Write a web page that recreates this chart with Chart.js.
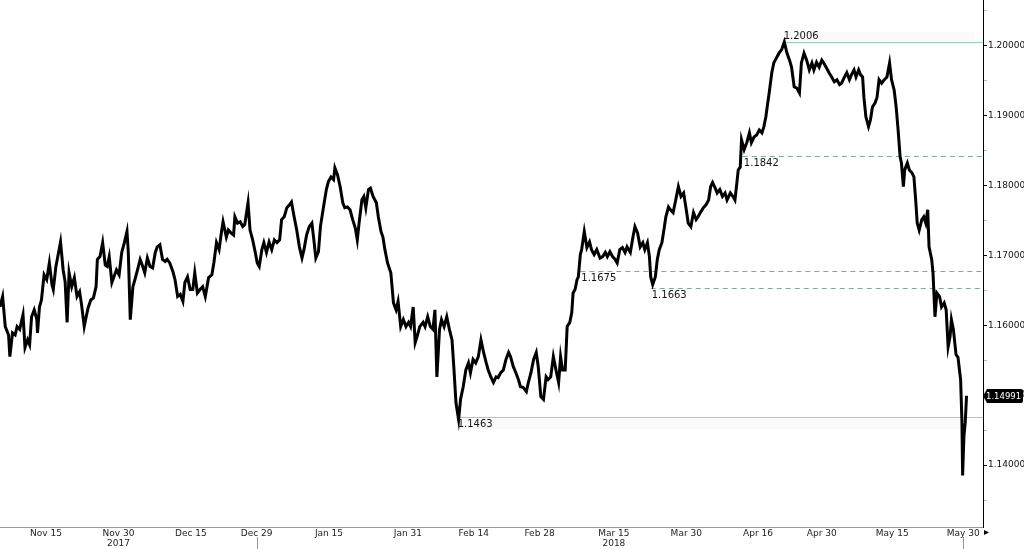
<!DOCTYPE html>
<html>
<head>
<meta charset="utf-8">
<script src="https://cdn.jsdelivr.net/npm/chart.js@4.4.1/dist/chart.umd.min.js"></script>
<style>
  html, body { margin: 0; padding: 0; background: #fff; }
  #wrap { width: 1024px; height: 549px; }
</style>
</head>
<body>
<div id="wrap"><canvas id="fxChart"></canvas></div>
<script>
// trading-day offset from Nov 15 2017, and the price read at that point
const days = [
  -7.0, -6.6, -6.2, -5.7, -5.5, -5.1, -4.7, -4.4, -4.0, -3.5, -3.2, -2.8, -2.5, -2.2, -1.8, -1.4, -1.3, -1.0, -0.7, -0.3,
  0.1, 0.5, 0.9, 1.1, 1.5, 1.9, 2.2, 2.6, 2.9, 3.2, 3.5, 3.9, 4.3, 4.7, 5.1, 5.4, 5.8, 6.1, 6.4, 6.8,
  7.2, 7.6, 7.8, 8.2, 8.6, 9.0, 9.3, 9.6, 10.0, 10.3, 10.7, 11.1, 11.5, 11.9, 12.3, 12.5, 12.8, 13.2, 13.5, 13.9,
  14.3, 14.7, 15.0, 15.4, 15.8, 16.2, 16.6, 16.9, 17.3, 17.7, 18.1, 18.4, 18.8, 19.3, 19.6, 20.0, 20.4, 20.8, 21.1, 21.5,
  21.9, 22.3, 22.6, 23.0, 23.4, 23.8, 24.2, 24.7, 25.2, 25.5, 25.9, 26.3, 26.7, 26.9, 27.4, 27.7, 28.1, 28.5, 28.7, 29.1,
  29.5, 29.9, 30.2, 30.7, 31.0, 31.4, 31.8, 32.1, 32.4, 32.8, 33.1, 33.5, 33.9, 34.3, 34.7, 35.1, 35.5, 35.8, 36.2, 36.6,
  37.0, 37.3, 37.7, 38.1, 38.5, 38.9, 39.2, 39.6, 40.0, 40.4, 40.7, 41.0, 41.4, 41.7, 42.1, 42.6, 42.9, 43.3, 43.7, 43.9,
  44.3, 44.7, 45.1, 45.4, 45.8, 46.2, 46.6, 47.0, 47.3, 47.6, 48.0, 48.3, 48.6, 49.0, 49.3, 49.7, 50.2, 50.5, 50.9, 51.2,
  51.5, 51.9, 52.4, 52.8, 53.2, 53.5, 53.9, 54.3, 54.7, 55.1, 55.4, 55.8, 56.1, 56.4, 56.8, 57.3, 57.6, 58.0, 58.4, 58.8,
  59.1, 59.4, 59.8, 60.1, 60.5, 60.9, 61.3, 61.7, 62.0, 62.3, 62.7, 63.0, 63.4, 63.8, 64.2, 64.5, 64.9, 65.3, 65.7, 66.1,
  66.5, 66.9, 67.2, 67.6, 68.0, 68.4, 68.7, 69.1, 69.5, 69.9, 70.3, 70.6, 71.0, 71.4, 71.8, 72.1, 72.5, 73.0, 73.3, 73.7,
  74.1, 74.5, 74.8, 75.2, 75.6, 76.0, 76.3, 76.7, 77.1, 77.5, 77.9, 78.2, 78.5, 78.9, 79.2, 79.6, 79.9, 80.1, 80.4, 80.7,
  80.9, 81.2, 81.4, 81.8, 82.2, 82.6, 82.9, 83.3, 83.7, 84.2, 84.6, 85.0, 85.3, 85.7, 86.1, 86.5, 86.8, 87.2, 87.6, 88.0,
  88.3, 88.8, 89.2, 89.5, 89.9, 90.3, 90.7, 91.0, 91.4, 91.7, 91.9, 92.2, 92.6, 92.9, 93.2, 93.6, 93.9, 94.2, 94.6, 94.9,
  95.3, 95.7, 96.1, 96.5, 96.9, 97.3, 97.6, 98.0, 98.4, 98.8, 99.1, 99.5, 99.9, 100.3, 100.7, 101.0, 101.3, 101.7, 102.0, 102.4,
  102.8, 103.2, 103.5, 104.0, 104.4, 104.7, 105.0, 105.2, 105.5, 105.7, 106.1, 106.5, 106.9, 107.2, 107.6, 108.0, 108.4, 108.8, 109.1, 109.4,
  109.6, 109.9, 110.3, 110.6, 111.1, 111.4, 111.8, 112.2, 112.6, 113.0, 113.3, 113.7, 114.1, 114.5, 114.8, 115.2, 115.6, 116.0, 116.4, 116.7,
  117.1, 117.5, 117.9, 118.2, 118.6, 119.0, 119.4, 119.8, 120.2, 120.6, 120.9, 121.3, 121.7, 122.1, 122.4, 122.8, 123.1, 123.5, 123.8, 124.1,
  124.3, 124.6, 125.0, 125.3, 125.6, 126.0, 126.3, 126.6, 127.0, 127.4, 127.8, 128.2, 128.5, 128.9, 129.2, 129.5, 129.8, 130.0, 130.3, 130.5,
  130.9, 131.2, 131.6, 131.9, 132.2, 132.4, 132.7, 133.1, 133.4, 133.7, 134.0, 134.2, 134.6, 134.8, 135.1, 135.4, 135.8, 136.1, 136.5, 136.8,
  137.1, 137.4, 137.6, 137.9, 138.3, 138.6, 139.0, 139.2, 139.3, 139.5, 139.7, 139.9
];
const prices = [
  1.1626, 1.1641, 1.1598, 1.1586, 1.1555, 1.1589, 1.1586, 1.1598, 1.1594, 1.1615, 1.1568, 1.1579, 1.1572, 1.1612, 1.1622, 1.1608, 1.1589, 1.1626, 1.1636, 1.1672,
  1.1665, 1.1689, 1.1658, 1.1651, 1.1684, 1.1704, 1.1719, 1.1679, 1.1662, 1.1604, 1.1675, 1.1655, 1.1668, 1.1641, 1.1648, 1.1629, 1.1598, 1.1612, 1.1625, 1.1636,
  1.1639, 1.1655, 1.1694, 1.1698, 1.1718, 1.1686, 1.1684, 1.1698, 1.1661, 1.1669, 1.1679, 1.1672, 1.1704, 1.1718, 1.1734, 1.1704, 1.1608, 1.1655, 1.1665, 1.1679,
  1.1694, 1.1684, 1.1675, 1.1696, 1.1684, 1.1682, 1.1704, 1.1712, 1.1715, 1.1694, 1.1691, 1.1694, 1.1689, 1.1676, 1.1665, 1.1641, 1.1644, 1.1634, 1.1661, 1.1669,
  1.1651, 1.1651, 1.1675, 1.1646, 1.1651, 1.1655, 1.1641, 1.1668, 1.1672, 1.1689, 1.1718, 1.1708, 1.1736, 1.1748, 1.1726, 1.1736, 1.1732, 1.1729, 1.1755, 1.1746,
  1.1748, 1.1741, 1.1744, 1.1775, 1.1736, 1.1722, 1.1704, 1.1689, 1.1684, 1.1708, 1.1718, 1.1704, 1.1719, 1.1708, 1.1722, 1.1718, 1.1722, 1.1751, 1.1755, 1.1768,
  1.1772, 1.1776, 1.1755, 1.1736, 1.1712, 1.1696, 1.1708, 1.1729, 1.1741, 1.1746, 1.1722, 1.1696, 1.1705, 1.1741, 1.1765, 1.1794, 1.1805, 1.1812, 1.1808, 1.1825,
  1.1815, 1.1798, 1.1775, 1.1768, 1.1769, 1.1765, 1.1751, 1.1739, 1.1722, 1.1748, 1.1779, 1.1784, 1.1768, 1.1794, 1.1796, 1.1784, 1.1775, 1.1755, 1.1734, 1.1726,
  1.1708, 1.1689, 1.1675, 1.1632, 1.1622, 1.1634, 1.1598, 1.1608, 1.1598, 1.1604, 1.1598, 1.1626, 1.1575, 1.1584, 1.1598, 1.1604, 1.1598, 1.1612, 1.1598, 1.1594,
  1.1622, 1.1526, 1.1594, 1.1608, 1.1598, 1.1612, 1.1594, 1.1579, 1.1536, 1.1489, 1.1465, 1.1494, 1.1512, 1.1536, 1.1546, 1.1532, 1.1551, 1.1546, 1.1555, 1.1579,
  1.1561, 1.1546, 1.1536, 1.1526, 1.1518, 1.1526, 1.1525, 1.1532, 1.1536, 1.1551, 1.1561, 1.1555, 1.1541, 1.1532, 1.1522, 1.1512, 1.1511, 1.1505, 1.1518, 1.1532,
  1.1551, 1.1561, 1.1541, 1.1498, 1.1494, 1.1526, 1.1522, 1.1526, 1.1555, 1.1536, 1.1518, 1.1555, 1.1536, 1.1536, 1.1598, 1.1604, 1.1618, 1.1646, 1.1651, 1.1665,
  1.1669, 1.1701, 1.1708, 1.1734, 1.1711, 1.1719, 1.1708, 1.1701, 1.1708, 1.1696, 1.1698, 1.1704, 1.1698, 1.1705, 1.1698, 1.1694, 1.1689, 1.1708, 1.1711, 1.1704,
  1.1712, 1.1704, 1.1726, 1.1741, 1.1732, 1.1712, 1.1718, 1.1708, 1.1718, 1.1698, 1.1669, 1.1658, 1.1669, 1.1694, 1.1708, 1.1718, 1.1736, 1.1755, 1.1769, 1.1765,
  1.1761, 1.1779, 1.1798, 1.1784, 1.1789, 1.1765, 1.1746, 1.1741, 1.1761, 1.1751, 1.1755, 1.1762, 1.1768, 1.1772, 1.1779, 1.1798, 1.1804, 1.1796, 1.1789, 1.1794,
  1.1784, 1.1789, 1.1779, 1.1789, 1.1784, 1.1779, 1.1804, 1.1822, 1.1826, 1.1865, 1.1851, 1.1861, 1.1875, 1.1861, 1.1869, 1.1872, 1.1879, 1.1875, 1.1884, 1.1898,
  1.1912, 1.1932, 1.1961, 1.1975, 1.1984, 1.1989, 1.1994, 1.2005, 1.1989, 1.1979, 1.1969, 1.1941, 1.1939, 1.1932, 1.1975, 1.1989, 1.1979, 1.1965, 1.1975, 1.1965,
  1.1976, 1.1969, 1.1979, 1.1975, 1.1968, 1.1961, 1.1955, 1.1948, 1.1951, 1.1944, 1.1946, 1.1954, 1.1961, 1.1951, 1.1958, 1.1965, 1.1955, 1.1965, 1.1958, 1.1955,
  1.1926, 1.1898, 1.1884, 1.1894, 1.1912, 1.1918, 1.1926, 1.1951, 1.1946, 1.1951, 1.1955, 1.1975, 1.1951, 1.1936, 1.1912, 1.1879, 1.1841, 1.1832, 1.1798, 1.1822,
  1.1832, 1.1822, 1.1818, 1.1812, 1.1775, 1.1746, 1.1736, 1.1751, 1.1755, 1.1746, 1.1765, 1.1712, 1.1694, 1.1675, 1.1612, 1.1646, 1.1641, 1.1626, 1.1632, 1.1622,
  1.1569, 1.1584, 1.1608, 1.1594, 1.1558, 1.1554, 1.1522, 1.1461, 1.1385, 1.1441, 1.1461, 1.14991
];

// x axis labels (positions in trading days)
const tickDays = [0, 11, 22, 32, 43, 55, 65, 75, 86.3, 97.3, 108.2, 117.9, 128.6, 139.4];
const tickLabels = ['Nov 15', 'Nov 30', 'Dec 15', 'Dec 29', 'Jan 15', 'Jan 31', 'Feb 14', 'Feb 28', 'Mar 15', 'Mar 30', 'Apr 16', 'Apr 30', 'May 15', 'May 30'];
const yearLabels = ['', '2017', '', '', '', '', '', '', '2018', '', '', '', '', ''];
const dividerDays = [32.1, 139.4];

// y axis
const yTicks = [1.135, 1.14, 1.145, 1.15, 1.155, 1.16, 1.165, 1.17, 1.175, 1.18, 1.185, 1.19, 1.195, 1.2, 1.205];

// marked levels
const levelPrices = [1.2005, 1.1842, 1.1677, 1.1653, 1.1468];
const levelLabels = ['1.2006', '1.1842', '1.1675', '1.1663', '1.1463'];
const levelStarts = [112.1, 105.9, 81.2, 91.9, 62.4];
const levelDashed = [false, true, true, true, false];

const lastPrice = 1.14991;

const FONT = 'DejaVu Sans';
Chart.defaults.font.family = FONT;

const isMajor = v => Math.abs(v * 100 - Math.round(v * 100)) < 1e-6;

const levelsPlugin = {
    id: 'levels',
    beforeDatasetsDraw(chart) {
        const { ctx, chartArea, scales: { x, y } } = chart;
        ctx.save();
        levelPrices.forEach((p, i) => {
            const py = Math.round(y.getPixelForValue(p)) + 0.5;
            const px = x.getPixelForValue(levelStarts[i]);
            if (!levelDashed[i]) {
                // faint band next to the label
                ctx.fillStyle = 'rgba(0,0,0,0.02)';
                if (i === 0) ctx.fillRect(px, py - 11, chartArea.right - px - 8, 10);
                else ctx.fillRect(px, py + 1.5, chartArea.right - px - 20, 10);
            }
            ctx.strokeStyle = levelDashed[i] ? '#7fa8a2' : '#93d3bf';
            ctx.lineWidth = 1;
            ctx.setLineDash(levelDashed[i] ? [5, 4] : []);
            ctx.beginPath();
            ctx.moveTo(px, py);
            ctx.lineTo(chartArea.right, py);
            ctx.stroke();
        });
        ctx.restore();
    },
    afterDatasetsDraw(chart) {
        const { ctx, scales: { x, y } } = chart;
        ctx.save();
        ctx.font = '10px "' + FONT + '"';
        ctx.fillStyle = '#111';
        ctx.textAlign = 'left';
        levelPrices.forEach((p, i) => {
            const py = y.getPixelForValue(p);
            const px = x.getPixelForValue(levelStarts[i]) + 1;
            if (i === 0) {
                ctx.textBaseline = 'bottom';
                ctx.fillText(levelLabels[i], px - 1, py - 1);
            } else {
                ctx.textBaseline = 'top';
                ctx.fillText(levelLabels[i], px, py + 2);
            }
        });
        ctx.restore();
    },
    afterDraw(chart) {
        const { ctx, chartArea, scales: { x, y } } = chart;
        ctx.save();
        // last price tag
        const ty = Math.round(y.getPixelForValue(lastPrice));
        const left = chartArea.right;
        const right = chart.width - 1;
        ctx.fillStyle = '#000';
        ctx.beginPath();
        ctx.moveTo(left, ty);
        ctx.lineTo(left + 4, ty - 7);
        ctx.lineTo(right - 2, ty - 7);
        ctx.quadraticCurveTo(right, ty - 7, right, ty - 5);
        ctx.lineTo(right, ty + 5);
        ctx.quadraticCurveTo(right, ty + 7, right - 2, ty + 7);
        ctx.lineTo(left + 4, ty + 7);
        ctx.closePath();
        ctx.fill();
        ctx.fillStyle = '#fff';
        ctx.font = '8.5px "' + FONT + '"';
        ctx.textAlign = 'left';
        ctx.textBaseline = 'middle';
        ctx.fillText(lastPrice.toFixed(5), left + 3, ty + 0.5);

        // dividers under the first label row
        ctx.strokeStyle = '#999';
        ctx.lineWidth = 1;
        dividerDays.forEach(d => {
            const px = Math.round(x.getPixelForValue(d)) + 0.5;
            ctx.beginPath();
            ctx.moveTo(px, chartArea.bottom + 10);
            ctx.lineTo(px, chart.height);
            ctx.stroke();
        });

        // small arrow at the end of the time axis
        ctx.fillStyle = '#000';
        ctx.beginPath();
        ctx.moveTo(chartArea.right + 1, chartArea.bottom + 3);
        ctx.lineTo(chartArea.right + 6, chartArea.bottom + 5.5);
        ctx.lineTo(chartArea.right + 1, chartArea.bottom + 8);
        ctx.closePath();
        ctx.fill();
        ctx.restore();
    }
};

new Chart(document.getElementById('fxChart').getContext('2d'), {
    type: 'line',
    data: {
        datasets: [{
            label: 'EUR/USD',
            data: days.map((d, i) => ({ x: d, y: prices[i] })),
            borderColor: '#000',
            borderWidth: 3,
            pointRadius: 0,
            tension: 0,
            fill: false
        }]
    },
    options: {
        responsive: true,
        maintainAspectRatio: false,
        animation: false,
        layout: { padding: 0 },
        plugins: {
            legend: { display: false },
            tooltip: { enabled: false }
        },
        scales: {
            x: {
                type: 'linear',
                min: -7,
                max: 142.4,
                afterBuildTicks: s => { s.ticks = tickDays.map(v => ({ value: v })); },
                afterFit: s => { s.height = 22; s.paddingLeft = 0; s.paddingRight = 0; },
                grid: { display: false, drawTicks: false },
                border: { display: true, color: '#999', width: 1 },
                ticks: {
                    autoSkip: false,
                    maxRotation: 0,
                    padding: 2,
                    color: '#222',
                    font: { size: 9, lineHeight: 1.1 },
                    callback: (v, i) => yearLabels[i] ? [tickLabels[i], yearLabels[i]] : tickLabels[i]
                }
            },
            y: {
                position: 'right',
                min: 1.13114,
                max: 1.2065,
                afterBuildTicks: s => { s.ticks = yTicks.map(v => ({ value: v })); },
                afterFit: s => { s.width = 41; s.paddingTop = 0; s.paddingBottom = 0; },
                grid: {
                    drawOnChartArea: false,
                    drawTicks: true,
                    tickLength: 4,
                    color: c => (c.tick && isMajor(c.tick.value)) ? '#000' : '#bbb'
                },
                border: { display: true, color: '#000', width: 1 },
                ticks: {
                    padding: 1,
                    color: '#111',
                    font: { size: 9 },
                    callback: v => isMajor(v) ? v.toFixed(5) : ''
                }
            }
        }
    },
    plugins: [levelsPlugin]
});
</script>
</body>
</html>
